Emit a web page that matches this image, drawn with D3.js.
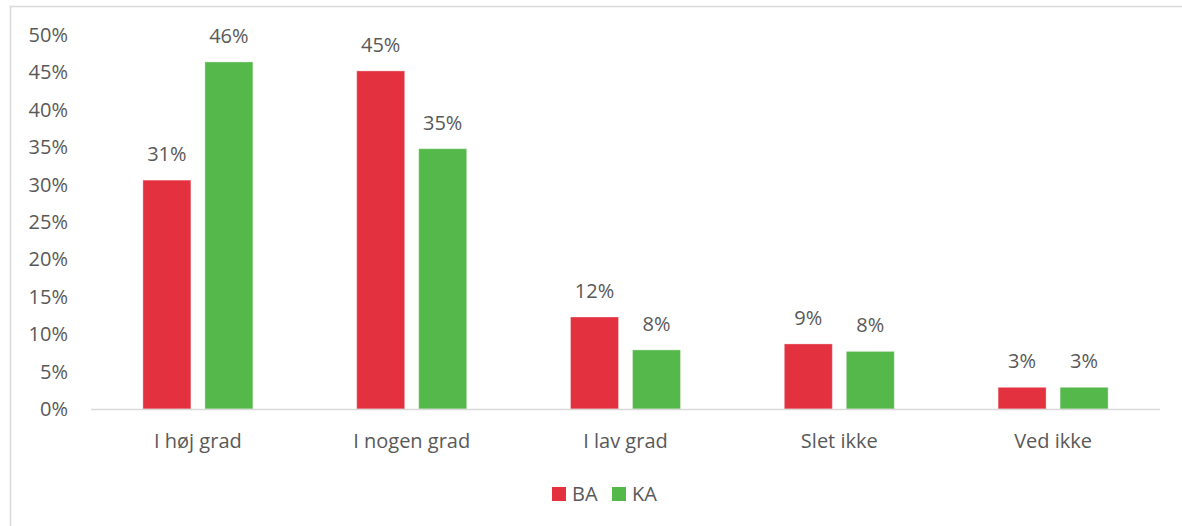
<!DOCTYPE html>
<html>
<head>
<meta charset="utf-8">
<script src="https://cdn.jsdelivr.net/npm/d3@7"></script>
<style>
  body { margin: 0; background: #fff; }
  text { font-family: "Open Sans", sans-serif; fill: #595959; }
</style>
</head>
<body>
<div id="chart"></div>
<script>
var categories = ["I høj grad", "I nogen grad", "I lav grad", "Slet ikke", "Ved ikke"];
var seriesNames = ["BA", "KA"];
var baValues = [30.6, 45.2, 12.3, 8.7, 2.9];
var kaValues = [46.4, 34.8, 7.9, 7.7, 2.9];
var yTicks = [0, 5, 10, 15, 20, 25, 30, 35, 40, 45, 50];
var colors = ["#e4313f", "#55b84a"];

var width = 1182,
    height = 526;

var svg = d3.select("#chart").append("svg")
    .attr("width", width)
    .attr("height", height);

// chart frame (cropped at right and bottom)
svg.append("path")
    .attr("d", "M10.5," + height + "V6.5H" + width)
    .attr("fill", "none")
    .attr("stroke", "#d9d9d9")
    .attr("stroke-width", 1.5);

var x = d3.scaleBand()
    .domain(categories)
    .range([91, 1160]);

var y = d3.scaleLinear()
    .domain([0, 50])
    .range([409, 35]);

var series = [baValues, kaValues];
var barW = 48, gap = 14;
var fs = 20;

// y axis labels
svg.append("g")
    .selectAll("text")
    .data(yTicks)
    .enter().append("text")
    .attr("x", 68)
    .attr("y", function(d) { return y(d); })
    .attr("dy", "0.35em")
    .attr("text-anchor", "end")
    .attr("font-size", fs)
    .text(function(d) { return d + "%"; });

// bars
series.forEach(function(vals, si) {
    var g = svg.append("g");
    var off = si === 0 ? -(gap / 2 + barW) : gap / 2;
    g.selectAll("rect")
        .data(vals)
        .enter().append("rect")
        .attr("x", function(d, i) { return x(categories[i]) + x.bandwidth() / 2 + off; })
        .attr("y", function(d) { return y(d); })
        .attr("width", barW)
        .attr("height", function(d) { return y(0) - y(d); })
        .attr("fill", colors[si])
        .attr("stroke", "#fff")
        .attr("stroke-opacity", 0.35)
        .attr("stroke-width", 1);
    g.selectAll("text")
        .data(vals)
        .enter().append("text")
        .attr("x", function(d, i) { return x(categories[i]) + x.bandwidth() / 2 + off + barW / 2; })
        .attr("y", function(d) { return y(d) - 19; })
        .attr("text-anchor", "middle")
        .attr("font-size", fs)
        .text(function(d) { return Math.round(d) + "%"; });
});

// x axis line
svg.append("line")
    .attr("x1", 91).attr("x2", 1160)
    .attr("y1", 409.5).attr("y2", 409.5)
    .attr("stroke", "#d9d9d9")
    .attr("stroke-width", 1.5);

// category labels
svg.append("g")
    .selectAll("text")
    .data(categories)
    .enter().append("text")
    .attr("x", function(d) { return x(d) + x.bandwidth() / 2; })
    .attr("y", 448)
    .attr("text-anchor", "middle")
    .attr("font-size", fs)
    .text(function(d) { return d; });

// legend
var legend = svg.append("g");
var legX = [552, 612];
seriesNames.forEach(function(name, i) {
    legend.append("rect")
        .attr("x", legX[i]).attr("y", 487)
        .attr("width", 14).attr("height", 14)
        .attr("fill", colors[i]);
    legend.append("text")
        .attr("x", legX[i] + 20).attr("y", 501)
        .attr("font-size", fs)
        .text(name);
});
</script>
</body>
</html>
